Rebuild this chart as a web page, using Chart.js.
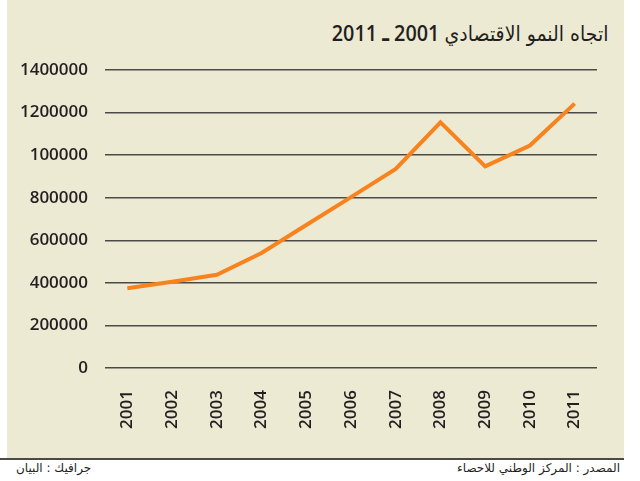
<!DOCTYPE html>
<html lang="ar">
<head>
<meta charset="utf-8">
<script src="https://cdn.jsdelivr.net/npm/chart.js@4/dist/chart.umd.min.js"></script>
<style>
  html, body { margin: 0; padding: 0; background: #ffffff; }
  #wrap { position: relative; width: 640px; height: 481px; overflow: hidden; }
  #panel { position: absolute; left: 7px; top: 0; width: 617px; height: 458px; background: #EDEAD4; }
  #rule { position: absolute; left: 0; top: 458px; width: 624px; height: 2px; background: #4a4a48; }
  #title { position: absolute; right: 32px; top: 17px; direction: rtl; white-space: nowrap;
           font-family: "Open Sans", "DejaVu Sans", sans-serif; font-weight: 600; font-size: 22px; color: #231f20;
           transform-origin: right center; transform: scaleX(0.9); }
  #title .ar { font-family: "DejaVu Sans", sans-serif; font-weight: normal; font-size: 21px; }
  .foot { position: absolute; top: 461px; direction: rtl; white-space: nowrap;
          font-family: "DejaVu Sans", "Open Sans", sans-serif; font-size: 12px; color: #231f20; }
  #src { right: 20px; }
  #credit { left: 16px; }
  #c { position: absolute; left: 0; top: 0; }
</style>
</head>
<body>
<div id="wrap">
  <div id="panel"></div>
  <div id="rule"></div>
  <div id="title"><span class="ar">اتجاه النمو الاقتصادي</span> 2001 ـ 2011</div>
  <canvas id="c" width="640" height="458"></canvas>
  <div class="foot" id="src">المصدر : المركز الوطني للاحصاء</div>
  <div class="foot" id="credit">جرافيك : البيان</div>
</div>
<script>
const years = ['2001','2002','2003','2004','2005','2006','2007','2008','2009','2010','2011'];
const growth = [375000, 405000, 438000, 540000, 672000, 803000, 935000, 1154000, 947000, 1045000, 1242000];
const yTickLabels = ['0','200000','400000','600000','800000','100000','1200000','1400000'];

new Chart(document.getElementById('c'), {
  type: 'line',
  data: {
    labels: years,
    datasets: [{
      data: growth,
      borderColor: '#F7821E',
      borderWidth: 4,
      pointRadius: 0,
      tension: 0,
      fill: false
    }]
  },
  options: {
    responsive: false,
    animation: false,
    layout: { padding: { top: 70, right: 43, left: 0, bottom: 0 } },
    plugins: { legend: { display: false }, tooltip: { enabled: false } },
    scales: {
      x: {
        offset: true,
        grid: { display: false, drawTicks: false },
        border: { display: false },
        ticks: {
          minRotation: 90, maxRotation: 90, autoSkip: false, padding: 22,
          color: '#231f20',
          font: { family: 'Open Sans', size: 17, weight: '600' }
        },
        afterFit: (s) => { s.height = 90; }
      },
      y: {
        min: 0, max: 1400000,
        grid: { color: '#4a4a48', lineWidth: 1.5, drawTicks: false },
        border: { display: false },
        ticks: {
          stepSize: 200000, padding: 17,
          color: '#231f20',
          font: { family: 'Open Sans', size: 17, weight: '600' },
          callback: (v, i) => yTickLabels[i]
        },
        afterFit: (s) => { s.width = 105; }
      }
    }
  }
});
</script>
</body>
</html>
